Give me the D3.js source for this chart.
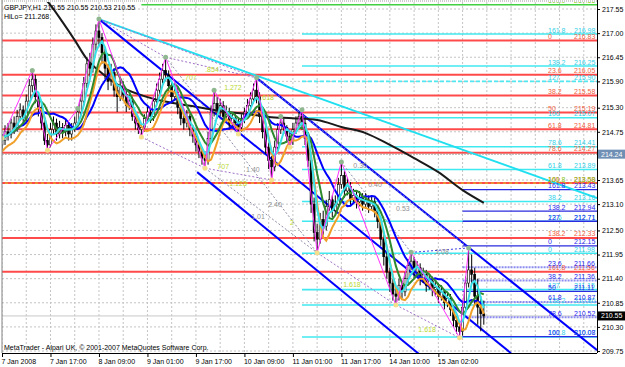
<!DOCTYPE html>
<html>
<head>
<meta charset="utf-8">
<script src="https://cdn.jsdelivr.net/npm/d3@7"></script>
<style>
body { margin: 0; background: #fff; }
text { font-family: "Liberation Sans", Arial, sans-serif; font-size: 7px; }
</style>
</head>
<body>
<div id="chart"></div>
<script>
// ---- data (GBPJPY H1) ----
const firstOpen = 214.45;
const closes = [
214.55,214.75,214.70,214.95,214.85,215.10,215.25,215.05,215.45,215.80,
215.95,215.55,215.30,214.95,214.55,214.45,214.80,214.95,214.70,214.85,
214.75,214.90,214.70,214.85,214.95,215.20,215.45,215.85,216.30,216.20,
216.75,217.05,216.90,216.55,216.20,215.90,216.10,215.70,215.55,215.80,
215.60,215.35,215.45,215.10,214.95,214.80,214.85,215.05,215.20,215.10,
215.45,215.70,215.95,216.15,216.05,215.80,215.55,215.65,215.30,215.05,
214.95,215.10,214.80,214.65,214.45,214.30,214.15,214.10,214.60,215.20,
215.40,215.25,215.35,215.10,215.20,214.95,215.05,214.95,214.85,215.05,
215.20,215.35,215.50,215.70,215.55,215.10,214.75,214.40,214.10,213.95,
214.40,214.80,214.95,214.85,214.65,214.55,214.80,214.95,215.10,214.95,
214.60,214.10,213.10,212.45,212.30,212.75,212.60,213.05,213.20,212.95,
213.10,213.55,213.75,213.40,213.50,213.20,213.30,213.15,213.25,213.10,
213.20,213.05,213.15,212.95,212.70,212.30,211.90,211.55,211.30,211.05,
211.00,211.25,211.10,211.40,211.70,211.80,211.55,211.65,211.40,211.50,
211.25,211.35,211.15,211.20,211.00,211.10,210.85,210.95,210.70,210.45,
210.30,210.20,210.75,211.30,211.60,211.50,211.00,210.75,210.60,210.55];
const highs = [
214.70,214.90,214.95,215.05,215.10,215.25,215.40,215.35,215.60,215.95,
216.15,216.05,215.65,215.40,215.05,214.70,214.95,215.10,215.05,215.00,
214.95,215.05,214.95,214.95,215.10,215.30,215.60,216.00,216.45,216.55,
216.90,217.20,217.32,217.00,216.65,216.30,216.30,216.20,215.85,215.95,
215.90,215.70,215.60,215.55,215.20,215.05,214.95,215.15,215.35,215.30,
215.55,215.85,216.10,216.30,216.45,216.15,215.90,215.80,215.75,215.40,
215.20,215.25,215.15,214.90,214.75,214.55,214.40,214.30,214.75,215.35,
215.70,215.55,215.50,215.45,215.35,215.30,215.20,215.15,215.05,215.15,
215.30,215.50,215.65,215.85,215.98,215.65,215.20,214.85,214.50,214.20,
214.55,214.95,215.10,215.05,214.90,214.75,214.95,215.10,215.20,215.25,
215.05,214.70,214.20,213.25,212.65,212.90,212.95,213.20,213.40,213.30,
213.30,213.70,214.06,213.85,213.70,213.60,213.45,213.40,213.40,213.35,
213.35,213.30,213.30,213.25,213.05,212.80,212.40,212.00,211.65,211.40,
211.20,211.40,211.35,211.55,211.85,212.00,211.90,211.80,211.75,211.65,
211.60,211.50,211.45,211.35,211.30,211.25,211.15,211.10,211.05,210.80,
210.55,210.40,210.90,211.45,212.10,211.95,211.65,211.40,211.00,210.90];
const lows = [
214.30,214.45,214.55,214.60,214.70,214.75,215.00,214.90,214.95,215.35,
215.65,215.40,215.10,214.80,214.45,214.33,214.40,214.70,214.55,214.60,
214.60,214.65,214.55,214.55,214.75,214.85,215.10,215.35,215.75,216.00,
216.10,216.60,216.70,216.30,215.95,215.70,215.80,215.55,215.20,215.45,
215.45,215.20,215.25,215.00,214.80,214.70,214.63,214.75,214.95,214.95,
215.00,215.35,215.60,215.85,215.90,215.65,215.40,215.45,215.15,214.90,
214.80,214.85,214.65,214.50,214.30,214.15,214.00,213.92,214.00,214.50,
215.10,215.05,215.10,214.95,215.00,214.80,214.85,214.80,214.70,214.75,
214.95,215.10,215.25,215.40,215.40,214.95,214.60,214.25,213.90,213.65,
213.85,214.30,214.70,214.70,214.50,214.40,214.45,214.70,214.85,214.80,
214.45,213.95,212.90,212.25,211.99,212.20,212.40,212.50,212.95,212.80,
212.85,213.00,213.45,213.25,213.30,213.05,213.10,213.00,213.05,212.95,
213.00,212.90,212.95,212.80,212.55,212.15,211.70,211.40,211.10,210.90,
210.80,210.90,210.95,211.00,211.30,211.60,211.40,211.45,211.25,211.30,
211.10,211.15,211.00,211.00,210.85,210.90,210.70,210.75,210.55,210.30,
210.15,210.05,210.10,210.65,211.20,211.30,210.80,210.35,210.20,210.35];

// long moving average (black), read at a few bars
const slowBars = [14,16,20,24,28,32,40,48,56,64,72,80,88,96,104,112,120,128,136,144,152,159];
const slowVals = [217.80,217.64,217.25,216.84,216.41,216.14,215.75,215.54,215.41,215.32,215.22,215.16,215.09,215.06,215.02,214.86,214.72,214.45,214.15,213.83,213.42,213.13];

// zigzag swing points [bar, price]
const zigzag = [[0,214.60],[10,216.15],[15,214.33],[25,215.28],[32,217.32],[46,214.63],[54,216.45],[67,213.92],
  [70,215.70],[78,214.70],[84,215.98],[89,213.65],[92,215.10],[95,214.40],[99,215.25],[104,211.99],[112,214.06],
  [130,210.80],[135,212.00],[151,210.05],[154,212.10]];

// fibonacci sets: level text and price
const redLevels = ["0","23.6","38.2","50","61.8","78.6","100","138.2","161.8"];
const redPrices = [216.83,216.05,215.58,215.19,214.81,214.27,213.58,212.33,211.56];
const cyanLevels = ["161.8","138.2","127","100","78.6","61.8","38.2","23.6","0","127","138.2","161.8"];
const cyanPrices = [216.98,216.25,215.90,215.07,214.41,213.89,213.16,212.71,211.98,211.15,210.80,210.07];
const blueLevels = ["161.8","138.2","127","0","23.6","38.2","50","61.8","78.6","100"];
const bluePrices = [213.43,212.94,212.71,212.15,211.66,211.36,211.11,210.87,210.52,210.08];
const blueDotted = ["23.6","38.2","61.8","78.6"];

// trend lines [bar1, price1, bar2, price2]
const cyanTrend = [32,217.32,196.4,213.24];
const channel = [[84,215.98,196.4,209.77],[32,217.32,168,209.70],[64.4,213.83,138,209.66]];

// pattern lines between zigzag points [from, to, colour]
const patternLines = [[4,10,"#a070c8"],[4,6,"#a070c8"],[6,10,"#a070c8"],[5,7,"#a070c8"],[7,11,"#a070c8"],
  [6,15,"#8c8ca8"],[7,15,"#8c8ca8"],[10,20,"#8c8ca8"],[16,18,"#8c8ca8"],[18,20,"#4040e0"],[15,17,"#a070c8"],[17,19,"#a070c8"]];
const patternLabels = [[69.3,216.16,".854","#b8d830"],[62,215.98,".707","#b8d830"],[76.2,215.75,"1.272","#b8d830"],
  [87.5,215.52,".618","#b8d830"],[73,213.95,"707","#b8d830"],[82.8,213.88,"1.40","#909090"],[77.9,213.58,"1.128","#b8d830"],
  [90.1,213.08,"2.40","#909090"],[84.5,212.81,"1.01","#909090"],[95.7,212.67,"2","#b8d830"],[118.2,213.99,"0.30","#909090"],
  [123.1,213.54,"0.40","#909090"],[132.3,213.01,"0.53","#909090"],[145.2,212.01,"1.08","#909090"],
  [115.5,211.26,"1.618","#b8d830"],[140.3,210.23,"1.618","#b8d830"]];

// axes
const priceTicks = [217.55,217.00,216.45,215.90,215.30,214.75,213.65,213.10,212.50,211.95,211.40,210.85,210.30,209.75];
const timeTickBars = [0,16,32,48,64,80,96,112,128,144];
const timeLabels = ["7 Jan 2008","7 Jan 17:00","8 Jan 09:00","9 Jan 01:00","9 Jan 17:00","10 Jan 09:00","11 Jan 01:00","11 Jan 17:00","14 Jan 10:00","15 Jan 02:00"];

// ---- layout ----
const width = 625, height = 367;
const plotLeft = 2, plotRight = 597, plotTop = 2, plotBottom = 353;

const x = d3.scaleLinear().domain([0, 159]).range([2, 483.8]);
const y = d3.scaleLinear().domain([209.705, 217.71]).range([plotBottom, plotTop]);
const lastBar = x.invert(plotRight);

const svg = d3.select("#chart").append("svg")
    .attr("width", width)
    .attr("height", height)
    .style("display", "block");

svg.append("rect").attr("width", width).attr("height", height).attr("fill", "#fff");
svg.append("defs").append("clipPath").attr("id", "plot")
    .append("rect")
    .attr("x", plotLeft).attr("y", plotTop)
    .attr("width", plotRight - plotLeft).attr("height", plotBottom - plotTop);

const plot = svg.append("g").attr("clip-path", "url(#plot)");

// grid
plot.selectAll(".vgrid").data(d3.range(0, lastBar, 8)).enter().append("line")
    .attr("x1", d => x(d)).attr("x2", d => x(d))
    .attr("y1", plotTop).attr("y2", plotBottom)
    .attr("stroke", "#c4c4c4").attr("stroke-dasharray", "2,2");
plot.selectAll(".hgrid").data(priceTicks).enter().append("line")
    .attr("x1", plotLeft).attr("x2", plotRight)
    .attr("y1", d => y(d)).attr("y2", d => y(d))
    .attr("stroke", "#c4c4c4").attr("stroke-dasharray", "2,2");

// horizontal levels
function hline(price, fromBar, colour, w, dash) {
    plot.append("line")
        .attr("x1", x(fromBar)).attr("x2", plotRight)
        .attr("y1", y(price)).attr("y2", y(price))
        .attr("stroke", colour).attr("stroke-width", w)
        .attr("stroke-dasharray", dash || null);
}

redPrices.forEach(p => hline(p, -1, "#ff4a4a", 2));
hline(213.58, -1, "#d8d020", 1, "3,3");
hline(214.24, -1, "#a0a0a0", 1, "2,1");
hline(210.55, -1, "#c8c8c8", 1);
cyanPrices.forEach((p, i) => hline(p, 99, cyanLevels[i] === "127" && i === 2 ? "#50e8f0" : "#40e8f0", 1.6, i === 2 ? "4,2" : null));
bluePrices.forEach((p, i) => {
    const dotted = blueDotted.includes(blueLevels[i]);
    hline(p, 152, dotted ? "#8c8cf0" : "#2a2ae0", dotted ? 2 : 1.3, dotted ? "2,1" : null);
});
hline(217.65, 46, "#40d040", 1.5);

// trend lines
plot.append("line")
    .attr("x1", x(cyanTrend[0])).attr("y1", y(cyanTrend[1]))
    .attr("x2", x(cyanTrend[2])).attr("y2", y(cyanTrend[3]))
    .attr("stroke", "#20e0f0").attr("stroke-width", 2);
plot.selectAll(".channel").data(channel).enter().append("line")
    .attr("x1", d => x(d[0])).attr("y1", d => y(d[1]))
    .attr("x2", d => x(d[2])).attr("y2", d => y(d[3]))
    .attr("stroke", "#0000ff").attr("stroke-width", 2);

// pattern lines
plot.selectAll(".pattern").data(patternLines).enter().append("line")
    .attr("x1", d => x(zigzag[d[0]][0])).attr("y1", d => y(zigzag[d[0]][1]))
    .attr("x2", d => x(zigzag[d[1]][0])).attr("y2", d => y(zigzag[d[1]][1]))
    .attr("stroke", d => d[2]).attr("stroke-dasharray", "2,2");

// candles
const bars = closes.map((c, i) => ({ i, o: i ? closes[i - 1] : firstOpen, c, h: highs[i], l: lows[i] }));
plot.selectAll(".wick").data(bars).enter().append("line")
    .attr("x1", d => x(d.i)).attr("x2", d => x(d.i))
    .attr("y1", d => y(d.h)).attr("y2", d => y(d.l))
    .attr("stroke", "#000").attr("stroke-width", 1);
plot.selectAll(".body").data(bars).enter().append("rect")
    .attr("x", d => x(d.i) - 1)
    .attr("y", d => y(Math.max(d.o, d.c)))
    .attr("width", 2)
    .attr("height", d => Math.max(1, Math.abs(y(d.o) - y(d.c))))
    .attr("fill", d => d.c >= d.o ? "#fff" : "#000")
    .attr("stroke", "#000").attr("stroke-width", 0.6);

// indicators
function sma(arr, n) {
    return arr.map((v, i) => d3.mean(arr.slice(Math.max(0, i - n + 1), i + 1)));
}
const line = d3.line().x((d, i) => x(i)).y(d => y(d));

plot.append("path")
    .datum(slowBars.map((b, i) => [b, slowVals[i]]))
    .attr("d", d3.line().x(d => x(d[0])).y(d => y(d[1])).curve(d3.curveMonotoneX))
    .attr("fill", "none").attr("stroke", "#1a1a1a").attr("stroke-width", 2);

const mas = [
    [sma(closes, 13), "#0000ff"],
    [sma(lows, 5), "#f0a028"],
    [sma(closes, 7), "#2f8a2f"],
    [sma(closes, 4), "#38e0e8"]
];
mas.forEach(([vals, colour]) => {
    plot.append("path").datum(vals).attr("d", line)
        .attr("fill", "none").attr("stroke", colour).attr("stroke-width", 2);
});

// zigzag
plot.append("path").datum(zigzag)
    .attr("d", d3.line().x(d => x(d[0])).y(d => y(d[1])))
    .attr("fill", "none").attr("stroke", "#ff30ff").attr("stroke-width", 1);
plot.selectAll(".zz").data(zigzag).enter().append("circle")
    .attr("cx", d => x(d[0])).attr("cy", d => y(d[1])).attr("r", 2.5)
    .attr("fill", (d, i) => i > 0 && d[1] > zigzag[i - 1][1] ? "#90b890" : "#f4e08c");

// pattern labels
plot.selectAll(".plabel").data(patternLabels).enter().append("text")
    .attr("x", d => x(d[0])).attr("y", d => y(d[1])).attr("dy", "0.35em")
    .attr("text-anchor", "middle").attr("fill", d => d[3]).text(d => d[2]);

// fib labels
function fibLabels(levels, prices, colour) {
    levels.forEach((lv, i) => {
        plot.append("text").attr("x", 548).attr("y", y(prices[i]) - 1.5).attr("fill", colour).text(lv);
        plot.append("text").attr("x", 574).attr("y", y(prices[i]) - 1.5).attr("fill", colour).text(prices[i].toFixed(2));
    });
}
fibLabels(redLevels, redPrices, "#f26040");
fibLabels(cyanLevels, cyanPrices, "#30d0e8");
fibLabels(blueLevels, bluePrices, "#2828f0");
fibLabels(["161.8"], [213.58], "#88c820");
fibLabels(["100.0"], [217.65], "#88c820");

// header / footer text
svg.append("text").attr("x", 4).attr("y", 9.5).attr("fill", "#000").text("GBPJPY,H1  210.55 210.55 210.53 210.55");
svg.append("text").attr("x", 4).attr("y", 18.5).attr("fill", "#000").text("HiLo= 211.268");
svg.append("text").attr("x", 4).attr("y", 349.5).attr("fill", "#000").text("MetaTrader - Alpari UK, \u00a9 2001-2007 MetaQuotes Software Corp.");

// frame
svg.append("line").attr("x1", plotLeft).attr("x2", plotLeft).attr("y1", 0).attr("y2", plotBottom).attr("stroke", "#808080");
svg.append("line").attr("x1", plotLeft).attr("x2", plotRight).attr("y1", 1).attr("y2", 1).attr("stroke", "#a0a0a0").attr("stroke-dasharray", "1,1");

// price axis
const yAxis = svg.append("g").attr("transform", `translate(${plotRight},0)`)
    .call(d3.axisRight(y).tickValues(priceTicks).tickFormat(d3.format(".2f")).tickSize(3).tickPadding(2));
yAxis.select(".domain").attr("d", `M0.5,0V${plotBottom}`).attr("stroke", "#000");
yAxis.selectAll("text").style("font-size", "7px").attr("fill", "#000");

// price boxes
const boxes = [[214.24, "#6f8fb4"], [210.55, "#000"]];
boxes.forEach(([p, fill]) => {
    svg.append("rect").attr("x", plotRight + 1).attr("y", y(p) - 4.5).attr("width", 27).attr("height", 9).attr("fill", fill);
    svg.append("text").attr("x", plotRight + 4).attr("y", y(p) + 2.5).attr("fill", "#fff").text(p.toFixed(2));
});

// time axis
const xAxis = svg.append("g").attr("transform", `translate(0,${plotBottom})`)
    .call(d3.axisBottom(x).tickValues(timeTickBars).tickFormat((d, i) => timeLabels[i]).tickSize(4).tickPadding(2));
xAxis.select(".domain").attr("d", `M${plotLeft},0.5H${plotRight}`).attr("stroke", "#000");
xAxis.selectAll("text").style("font-size", "7px").attr("fill", "#000").attr("text-anchor", "start").attr("x", -1);
</script>
</body>
</html>
